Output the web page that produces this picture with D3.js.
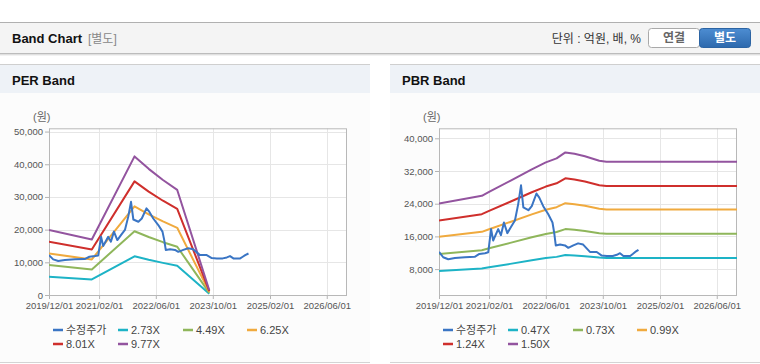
<!DOCTYPE html>
<html><head><meta charset="utf-8">
<script src="https://cdn.jsdelivr.net/npm/d3@7"></script>
<style>
body{margin:0;background:#fff;font-family:"Liberation Sans","Noto Sans CJK KR",sans-serif;}
svg{display:block}
</style></head><body>
<svg id="c" width="760" height="364"></svg>
<script>
// ---------- DATA ----------
const xTickLabels = ["2019/12/01","2021/02/01","2022/06/01","2023/10/01","2025/02/01","2026/06/01"];
const xDomainEnd = "2026-11-21";

const priceDates = ["2019-12-01","2020-01-06","2020-02-18","2020-04-15","2020-07-10","2020-10-01","2020-11-10","2020-12-28","2021-01-25","2021-02-18","2021-03-08","2021-04-20","2021-05-13","2021-06-08","2021-07-07","2021-08-07","2021-09-10","2021-10-08","2021-11-01","2021-11-21","2022-01-03","2022-02-01","2022-03-13","2022-04-06","2022-05-10","2022-06-22","2022-07-28","2022-08-12","2022-08-25","2022-10-01","2022-11-12","2022-12-10","2023-01-22","2023-03-04","2023-04-16","2023-06-13","2023-08-10","2023-09-22","2023-11-04","2023-12-25","2024-01-29","2024-02-25","2024-03-25","2024-05-22","2024-06-13","2024-07-04","2024-08-01"];
const priceValues = [12200,10900,10400,10700,10900,11000,11700,11900,12100,17800,15000,17800,16300,19400,16800,18300,19900,23900,28500,23100,22400,23400,26500,25500,23400,21400,19400,16800,13800,14000,13800,13200,13800,14300,14000,12200,12200,11300,11200,11200,11500,11900,11200,11200,11700,12200,12700];

const perBandDates = ["2019-12-01","2020-12-01","2021-12-01","2022-04-01","2022-08-01","2022-12-01","2023-09-01"];
const perLabels = ["2.73X","4.49X","6.25X","8.01X","9.77X"];
const per273 = [5560,4750,11850,10780,9830,8980,410];
const per449 = [9150,7810,19490,17740,16160,14770,670];
const per625 = [12730,10880,27130,24690,22500,20560,940];
const per801 = [16320,13940,34760,31640,28840,26350,1200];
const per977 = [19900,17000,42400,38590,35170,32140,1470];
const perYTicks = [0,10000,20000,30000,40000,50000];

const pbrBandDates = ["2019-12-01","2020-12-01","2021-02-01","2021-08-01","2022-02-01","2022-06-01","2022-09-01","2022-11-15","2023-02-01","2023-05-01","2023-09-01","2023-11-01","2026-11-21"];
const pbrLabels = ["0.47X","0.73X","0.99X","1.24X","1.50X"];
const pbr047 = [7540,8130,8430,9280,10160,10690,10990,11450,11340,11160,10810,10730,10730];
const pbr073 = [11710,12620,13090,14410,15780,16600,17070,17790,17620,17330,16790,16670,16670];
const pbr099 = [15890,17110,17750,19540,21400,22510,23150,24120,23890,23500,22770,22600,22600];
const pbr124 = [19900,21440,22240,24470,26800,28190,29000,30220,29930,29430,28520,28310,28310];
const pbr150 = [24070,25930,26900,29600,32420,34100,35080,36550,36200,35600,34500,34250,34250];
const pbrYTicks = [8000,16000,24000,32000,40000];

const priceLabel = "수정주가";
const colors = ["#3a75c4","#1db3c6","#8fb65b","#f0aa3e","#cf2f2c","#93549f"];

// ---------- DRAW ----------
const svg = d3.select("#c");
const parse = d3.timeParse("%Y-%m-%d");
const parseTick = d3.timeParse("%Y/%m/%d");
const fmt = d3.format(",");

// top header bar
svg.append("rect").attr("x",0).attr("y",22).attr("width",760).attr("height",31).attr("fill","#f4f4f4");
svg.append("line").attr("x1",0).attr("x2",760).attr("y1",22.5).attr("y2",22.5).attr("stroke","#b0b0b0");
svg.append("line").attr("x1",0).attr("x2",760).attr("y1",53.5).attr("y2",53.5).attr("stroke","#bcbcbc");
svg.append("line").attr("x1",0).attr("x2",760).attr("y1",54.5).attr("y2",54.5).attr("stroke","#e0e0e0");
svg.append("line").attr("x1",0).attr("x2",760).attr("y1",55.5).attr("y2",55.5).attr("stroke","#f2f2f2");
svg.append("text").attr("x",12).attr("y",43).attr("font-size",13).attr("font-weight","bold").attr("fill","#111").text("Band Chart");
svg.append("text").attr("x",88).attr("y",43).attr("font-size",12).attr("fill","#888").text("[별도]");
svg.append("text").attr("x",641).attr("y",43).attr("text-anchor","end").attr("font-size",12).attr("fill","#333").text("단위 : 억원, 배, %");
const defs = svg.append("defs");
const g1 = defs.append("linearGradient").attr("id","btn").attr("x1",0).attr("x2",0).attr("y1",0).attr("y2",1);
g1.append("stop").attr("offset","0%").attr("stop-color","#4d8dd2");
g1.append("stop").attr("offset","100%").attr("stop-color","#2d69ad");
svg.append("rect").attr("x",648.5).attr("y",28.5).attr("width",51).attr("height",19).attr("rx",3).attr("fill","#fff").attr("stroke","#a9a9a9");
svg.append("text").attr("x",674).attr("y",42).attr("text-anchor","middle").attr("font-size",12).attr("font-weight","bold").attr("fill","#666").text("연결");
svg.append("rect").attr("x",699.5).attr("y",28.5).attr("width",51).attr("height",19).attr("rx",3).attr("fill","url(#btn)").attr("stroke","#2c64a3");
svg.append("text").attr("x",725).attr("y",42).attr("text-anchor","middle").attr("font-size",12).attr("font-weight","bold").attr("fill","#fff").text("별도");

function panel(opt){
  const x0 = opt.x0, w = 370;
  const g = svg.append("g");
  g.append("rect").attr("x",x0).attr("y",64).attr("width",w).attr("height",298).attr("fill","#fcfcfc");
  g.append("rect").attr("x",x0).attr("y",65).attr("width",w).attr("height",28).attr("fill","#eef2f7");
  g.append("line").attr("x1",x0).attr("x2",x0+w).attr("y1",64.5).attr("y2",64.5).attr("stroke","#cfcfcf");
  g.append("line").attr("x1",x0).attr("x2",x0+w).attr("y1",362.5).attr("y2",362.5).attr("stroke","#d4d4d4");
  g.append("text").attr("x",x0+12).attr("y",85).attr("font-size",13).attr("font-weight","bold").attr("fill","#111").text(opt.title);

  const L = x0+49, R = L+298, T = 128.3, B = 295;
  const x = d3.scaleTime().domain([parse("2019-12-01"), parse(xDomainEnd)]).range([L,R]);
  const y = d3.scaleLinear().domain(opt.yDomain).range([B,T]);
  const xt = xTickLabels.map(parseTick);

  g.append("rect").attr("x",L).attr("y",T).attr("width",R-L).attr("height",B-T).attr("fill","#fff");
  // grid
  g.append("g").selectAll("line").data(opt.yTicks).join("line")
    .attr("x1",L).attr("x2",R).attr("y1",d=>Math.round(y(d))+0.5).attr("y2",d=>Math.round(y(d))+0.5).attr("stroke","#e6e6e6");
  g.append("g").selectAll("line").data(xt).join("line")
    .attr("y1",T).attr("y2",B).attr("x1",d=>Math.round(x(d))+0.5).attr("x2",d=>Math.round(x(d))+0.5).attr("stroke","#e6e6e6");
  // axes
  const xa = d3.axisBottom(x).tickValues(xt).tickFormat(d3.timeFormat("%Y/%m/%d")).tickSize(4).tickSizeOuter(0);
  const xg = g.append("g").attr("transform",`translate(0,${B})`).call(xa);
  const ya = d3.axisLeft(y).tickValues(opt.yTicks).tickFormat(fmt).tickSize(4).tickSizeOuter(0);
  const yg = g.append("g").attr("transform",`translate(${L},0)`).call(ya);
  [xg,yg].forEach(a=>{
    a.select(".domain").remove();
    a.selectAll(".tick line").attr("stroke","#b4b4b4");
    a.selectAll(".tick text").attr("fill","#555").attr("font-size",9.5).attr("font-family","Liberation Sans, sans-serif");
  });
  xg.selectAll(".tick text").attr("dy","0.9em").attr("y",5);
  yg.selectAll(".tick text").attr("x",-6);
  // frame
  g.append("rect").attr("x",L+0.5).attr("y",T+0.5).attr("width",R-L-1).attr("height",B-T).attr("fill","none").attr("stroke","#b8b8b8");
  g.append("text").attr("x",x0+33).attr("y",121).attr("font-size",11).attr("fill","#666").text("(원)");

  // lines
  const clip = "clip"+x0;
  defs.append("clipPath").attr("id",clip).append("rect").attr("x",L).attr("y",T-2).attr("width",R-L).attr("height",B-T+4);
  const lg = g.append("g").attr("clip-path",`url(#${clip})`);
  const line = d3.line().x(d=>x(d[0])).y(d=>y(d[1]));
  opt.bands.forEach((vals,i)=>{
    const pts = opt.bandDates.map((d,j)=>[parse(d),vals[j]]);
    lg.append("path").attr("d",line(pts)).attr("fill","none").attr("stroke",colors[i+1]).attr("stroke-width",2).attr("stroke-linejoin","round");
  });
  const pp = priceDates.map((d,j)=>[parse(d),priceValues[j]]);
  lg.append("path").attr("d",line(pp)).attr("fill","none").attr("stroke",colors[0]).attr("stroke-width",2).attr("stroke-linejoin","round");

  // legend
  const names = [priceLabel].concat(opt.labels);
  const offs = [[4,330],[69,330],[134,330],[198,330],[4,344],[69,344]];
  names.forEach((n,i)=>{
    const lx = L+offs[i][0], ly = offs[i][1];
    g.append("line").attr("x1",lx).attr("x2",lx+10).attr("y1",ly).attr("y2",ly).attr("stroke",colors[i]).attr("stroke-width",2.5);
    g.append("text").attr("x",lx+13).attr("y",ly+4).attr("font-size",11).attr("fill","#444").text(n);
  });
}

panel({x0:0, title:"PER Band", yDomain:[0,51000], yTicks:perYTicks, bandDates:perBandDates, bands:[per273,per449,per625,per801,per977], labels:perLabels});
panel({x0:390, title:"PBR Band", yDomain:[1664,42446], yTicks:pbrYTicks, bandDates:pbrBandDates, bands:[pbr047,pbr073,pbr099,pbr124,pbr150], labels:pbrLabels});
</script>
</body></html>
